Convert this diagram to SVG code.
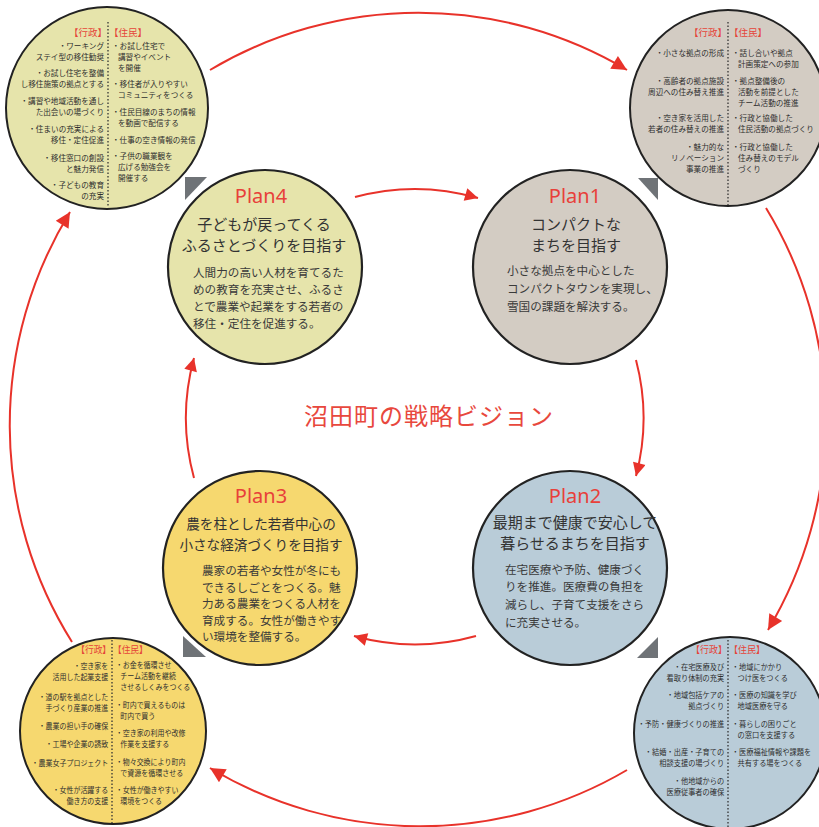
<svg xmlns="http://www.w3.org/2000/svg" width="819" height="827" viewBox="0 0 819 827">
<style>
.bg{fill:#ffffff}
.c{stroke:#222;stroke-width:2.2}
.sc{stroke:#222;stroke-width:2}
.y4{fill:#e6e4ab}
.g1{fill:#d3ccc3}
.b2{fill:#b9ccd8}
.o3{fill:#f6d86f}
.div{stroke:#333;stroke-width:1.3;stroke-dasharray:1.5 2}
.pt{font-family:"Noto Sans","Liberation Sans",sans-serif;font-size:20px;fill:#e8403a;text-anchor:middle}
.h{font-family:"Noto Sans CJK JP","Noto Sans",sans-serif;font-size:15px;fill:#333;text-anchor:middle}
.h3{font-size:13.6px}
.b{font-family:"Noto Sans CJK JP","Noto Sans",sans-serif;font-size:11.6px;fill:#3a3a3a}
.s{font-family:"Noto Sans CJK JP","Noto Sans",sans-serif;font-size:7.6px;fill:#2e2e2e}
.l{text-anchor:end}
.hd{font-family:"Noto Sans CJK JP","Noto Sans",sans-serif;font-size:9.5px;fill:#e5443a}
.arc{fill:none;stroke:#e8322a;stroke-width:2}
.tri{fill:#6f7377}
.title{font-family:"Noto Sans CJK JP","Noto Sans",sans-serif;font-size:24px;fill:#e8483d;text-anchor:middle;letter-spacing:1px}
</style>
<defs>
<marker id="ah" viewBox="0 0 10 10" refX="10" refY="5" markerUnits="userSpaceOnUse" markerWidth="18" markerHeight="15" orient="auto">
<path d="M0,0 L10,5 L0,10 z" fill="#e8322a"/>
</marker>
<marker id="ahs" viewBox="0 0 10 10" refX="10" refY="5" markerUnits="userSpaceOnUse" markerWidth="15" markerHeight="13" orient="auto">
<path d="M0,0 L10,5 L0,10 z" fill="#e8322a"/>
</marker>
</defs>
<rect class="bg" x="0" y="0" width="819" height="827"/>

<g id="connectors">
<path class="arc" d="M 210 70 A 408 408 0 0 1 627 70" marker-end="url(#ah)"/>
<path class="arc" d="M 766 208 A 408 408 0 0 1 768 630" marker-end="url(#ah)"/>
<path class="arc" d="M 627 770 A 408 408 0 0 1 210 768" marker-end="url(#ah)"/>
<path class="arc" d="M 72 642 A 408 408 0 0 1 70 212" marker-end="url(#ah)"/>
<path class="arc" d="M 355 197 A 228 228 0 0 1 478 198" marker-end="url(#ahs)"/>
<path class="arc" d="M 636 360 A 228 228 0 0 1 636 476" marker-end="url(#ahs)"/>
<path class="arc" d="M 476 636 A 228 228 0 0 1 354 636" marker-end="url(#ahs)"/>
<path class="arc" d="M 194 478 A 228 228 0 0 1 194 358" marker-end="url(#ahs)"/>
<polygon class="tri" points="185,177 207,177 185,200"/>
<polygon class="tri" points="638,178 658,178 658,200"/>
<polygon class="tri" points="658,637 658,658 637,658"/>
<polygon class="tri" points="183,636 183,657 206,657"/>
</g>

<g id="title">
<text class="title" x="429" y="425">沼田町の戦略ビジョン</text>
</g>

<g id="plan4">
<circle class="c y4" cx="265" cy="267" r="97"/>
<text class="pt" x="261" y="203">Plan4</text>
<text class="h" x="264" y="230">子どもが戻ってくる<tspan x="264" dy="21">ふるさとづくりを目指す</tspan></text>
<text class="b" x="193" y="277">人間力の高い人材を育てるた<tspan x="193" dy="17">めの教育を充実させ、ふるさ</tspan><tspan x="193" dy="17">とで農業や起業をする若者の</tspan><tspan x="193" dy="17">移住・定住を促進する。</tspan></text>
</g>

<g id="plan1">
<circle class="c g1" cx="570" cy="267" r="97"/>
<text class="pt" x="575" y="203">Plan1</text>
<text class="h" x="576" y="230">コンパクトな<tspan x="576" dy="21">まちを目指す</tspan></text>
<text class="b" x="507" y="275">小さな拠点を中心とした<tspan x="507" dy="18">コンパクトタウンを実現し、</tspan><tspan x="507" dy="18">雪国の課題を解決する。</tspan></text>
</g>

<g id="plan2">
<circle class="c b2" cx="570" cy="568" r="97"/>
<text class="pt" x="575" y="503">Plan2</text>
<text class="h" x="575" y="528">最期まで健康で安心して<tspan x="575" dy="21">暮らせるまちを目指す</tspan></text>
<text class="b" x="505" y="574">在宅医療や予防、健康づく<tspan x="505" dy="17">りを推進。医療費の負担を</tspan><tspan x="505" dy="18">減らし、子育て支援をさら</tspan><tspan x="505" dy="18">に充実させる。</tspan></text>
</g>

<g id="plan3">
<circle class="c o3" cx="260" cy="568" r="97"/>
<text class="pt" x="261" y="503">Plan3</text>
<text class="h h3" x="261" y="529">農を柱とした若者中心の<tspan x="261" dy="21">小さな経済づくりを目指す</tspan></text>
<text class="b" x="202" y="575">農家の若者や女性が冬にも<tspan x="202" dy="16.5">できるしごとをつくる。魅</tspan><tspan x="202" dy="16.5">力ある農業をつくる人材を</tspan><tspan x="202" dy="16.5">育成する。女性が働きやす</tspan><tspan x="202" dy="16.5">い環境を整備する。</tspan></text>
</g>

<g id="detail4">
<circle class="sc y4" cx="107" cy="108" r="101"/>
<line class="div" x1="108" y1="22" x2="108" y2="206"/>
<g transform="translate(108 0)">
<text class="hd l" x="-1" y="36">【行政】</text>
<text class="hd" x="1" y="36">【住民】</text>
<text class="s l" x="-4" y="49">・ワーキング<tspan x="-4" dy="11">ステイ型の移住勧奨</tspan></text>
<text class="s l" x="-4" y="76">・お試し住宅を整備<tspan x="-4" dy="11">し移住施策の拠点とする</tspan></text>
<text class="s l" x="-4" y="104">・講習や地域活動を通し<tspan x="-4" dy="11">た出会いの場づくり</tspan></text>
<text class="s l" x="-4" y="132">・住まいの充実による<tspan x="-4" dy="11">移住・定住促進</tspan></text>
<text class="s l" x="-4" y="161">・移住窓口の創設<tspan x="-4" dy="11">と魅力発信</tspan></text>
<text class="s l" x="-4" y="188">・子どもの教育<tspan x="-4" dy="11">の充実</tspan></text>
<text class="s" x="4" y="49">・お試し住宅で<tspan x="10" dy="11">講習やイベント</tspan><tspan x="10" dy="11">を開催</tspan></text>
<text class="s" x="4" y="87">・移住者が入りやすい<tspan x="10" dy="11">コミュニティをつくる</tspan></text>
<text class="s" x="4" y="115">・住民目線のまちの情報<tspan x="10" dy="11">を動画で配信する</tspan></text>
<text class="s" x="4" y="143">・仕事の空き情報の発信</text>
<text class="s" x="4" y="159">・子供の職業観を<tspan x="10" dy="11">広げる勉強会を</tspan><tspan x="10" dy="11">開催する</tspan></text>
</g>
</g>

<g id="detail1">
<circle class="sc g1" cx="728" cy="108" r="98"/>
<line class="div" x1="728" y1="22" x2="728" y2="205"/>
<g transform="translate(728 0)">
<text class="hd l" x="-1" y="36">【行政】</text>
<text class="hd" x="1" y="36">【住民】</text>
<text class="s l" x="-4" y="56">・小さな拠点の形成</text>
<text class="s l" x="-4" y="84">・高齢者の拠点施設<tspan x="-4" dy="11">周辺への住み替え推進</tspan></text>
<text class="s l" x="-4" y="121">・空き家を活用した<tspan x="-4" dy="11">若者の住み替えの推進</tspan></text>
<text class="s l" x="-4" y="150">・魅力的な<tspan x="-4" dy="11">リノベーション</tspan><tspan x="-4" dy="11">事業の推進</tspan></text>
<text class="s" x="4" y="56">・話し合いや拠点<tspan x="10" dy="11">計画策定への参加</tspan></text>
<text class="s" x="4" y="84">・拠点整備後の<tspan x="10" dy="11">活動を前提とした</tspan><tspan x="10" dy="11">チーム活動の推進</tspan></text>
<text class="s" x="4" y="121">・行政と協働した<tspan x="10" dy="11">住民活動の拠点づくり</tspan></text>
<text class="s" x="4" y="150">・行政と協働した<tspan x="10" dy="11">住み替えのモデル</tspan><tspan x="10" dy="11">づくり</tspan></text>
</g>
</g>

<g id="detail3">
<circle class="sc o3" cx="113" cy="731" r="93"/>
<line class="div" x1="112" y1="640" x2="112" y2="823"/>
<g transform="translate(112 0) scale(0.92 1)">
<text class="hd l" x="-1" y="653">【行政】</text>
<text class="hd" x="1" y="653">【住民】</text>
<text class="s l" x="-4" y="669">・空き家を<tspan x="-4" dy="11">活用した起業支援</tspan></text>
<text class="s l" x="-4" y="700">・道の駅を拠点とした<tspan x="-4" dy="11">手づくり産業の推進</tspan></text>
<text class="s l" x="-4" y="729">・農業の担い手の確保</text>
<text class="s l" x="-4" y="747">・工場や企業の誘致</text>
<text class="s l" x="-4" y="766">・農業女子プロジェクト</text>
<text class="s l" x="-4" y="793">・女性が活躍する<tspan x="-4" dy="11">働き方の支援</tspan></text>
<text class="s" x="4" y="668">・お金を循環させ<tspan x="9" dy="11">チーム活動を継続</tspan><tspan x="9" dy="11">させるしくみをつくる</tspan></text>
<text class="s" x="4" y="708">・町内で買えるものは<tspan x="9" dy="11">町内で買う</tspan></text>
<text class="s" x="4" y="736">・空き家の利用や改修<tspan x="9" dy="11">作業を支援する</tspan></text>
<text class="s" x="4" y="765">・物々交換により町内<tspan x="9" dy="11">で資源を循環させる</tspan></text>
<text class="s" x="4" y="793">・女性が働きやすい<tspan x="9" dy="11">環境をつくる</tspan></text>
</g>
</g>

<g id="detail2">
<circle class="sc b2" cx="730" cy="733" r="96"/>
<line class="div" x1="728" y1="640" x2="728" y2="827"/>
<g transform="translate(728 0) scale(0.95 1)">
<text class="hd l" x="-1" y="653">【行政】</text>
<text class="hd" x="1" y="653">【住民】</text>
<text class="s l" x="-4" y="670">・在宅医療及び<tspan x="-4" dy="11">看取り体制の充実</tspan></text>
<text class="s l" x="-4" y="698">・地域包括ケアの<tspan x="-4" dy="11">拠点づくり</tspan></text>
<text class="s l" x="-4" y="727">・予防・健康づくりの推進</text>
<text class="s l" x="-4" y="755">・結婚・出産・子育ての<tspan x="-4" dy="11">相談支援の場づくり</tspan></text>
<text class="s l" x="-4" y="784">・他地域からの<tspan x="-4" dy="11">医療従事者の確保</tspan></text>
<text class="s" x="4" y="670">・地域にかかり<tspan x="10" dy="11">つけ医をつくる</tspan></text>
<text class="s" x="4" y="698">・医療の知識を学び<tspan x="10" dy="11">地域医療を守る</tspan></text>
<text class="s" x="4" y="727">・暮らしの困りごと<tspan x="10" dy="11">の窓口を支援する</tspan></text>
<text class="s" x="4" y="755">・医療福祉情報や課題を<tspan x="10" dy="11">共有する場をつくる</tspan></text>
</g>
</g>
</svg>
